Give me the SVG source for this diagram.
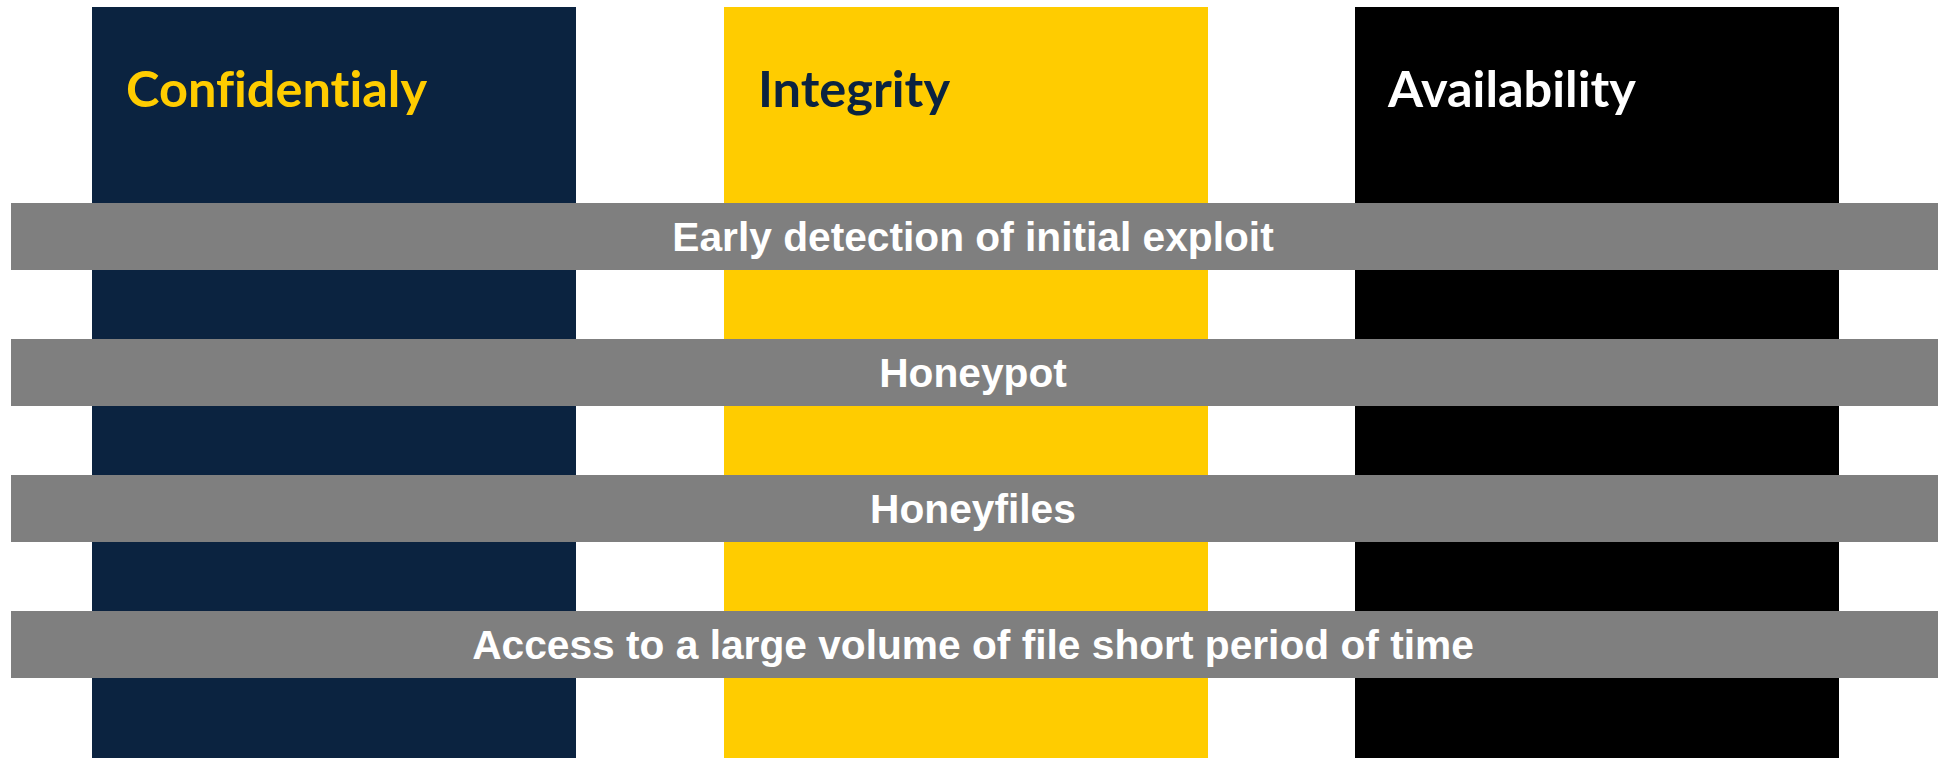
<svg xmlns="http://www.w3.org/2000/svg" width="1942" height="758" viewBox="0 0 1942 758">
  <style>
    .col-title { font-family: Lato, "Open Sans", "Liberation Sans", sans-serif; font-weight: 700; font-size: 50.5px; font-variant-ligatures: none; }
    .bar { fill: #7F7F7F; }
    .bar-text { font-family: "Liberation Sans", Arial, sans-serif; font-weight: 700; font-size: 40.7px; fill: #FFFFFF; text-anchor: middle; }
  </style>
  <rect x="0" y="0" width="1942" height="758" fill="#FFFFFF"/>

  <!-- Pillars -->
  <g id="confidentiality">
    <rect x="92" y="7" width="484" height="751" fill="#0B2340"/>
    <text class="col-title" x="126" y="107" fill="#FFCC00">Confidentialy</text>
  </g>
  <g id="integrity">
    <rect x="724" y="7" width="484" height="751" fill="#FFCC00"/>
    <text class="col-title" x="758" y="107" fill="#0B2340">Integrity</text>
  </g>
  <g id="availability">
    <rect x="1355" y="7" width="484" height="751" fill="#000000"/>
    <text class="col-title" x="1388" y="107" fill="#FFFFFF">Availability</text>
  </g>

  <!-- Detection techniques spanning all pillars -->
  <g id="early-detection">
    <rect class="bar" x="11" y="203" width="1927" height="67"/>
    <text class="bar-text" x="973" y="251">Early detection of initial exploit</text>
  </g>
  <g id="honeypot">
    <rect class="bar" x="11" y="339" width="1927" height="67"/>
    <text class="bar-text" x="973" y="387">Honeypot</text>
  </g>
  <g id="honeyfiles">
    <rect class="bar" x="11" y="475" width="1927" height="67"/>
    <text class="bar-text" x="973" y="523">Honeyfiles</text>
  </g>
  <g id="file-access-volume">
    <rect class="bar" x="11" y="611" width="1927" height="67"/>
    <text class="bar-text" x="973" y="659">Access to a large volume of file short period of time</text>
  </g>

  <g id="connectors"/>
</svg>
